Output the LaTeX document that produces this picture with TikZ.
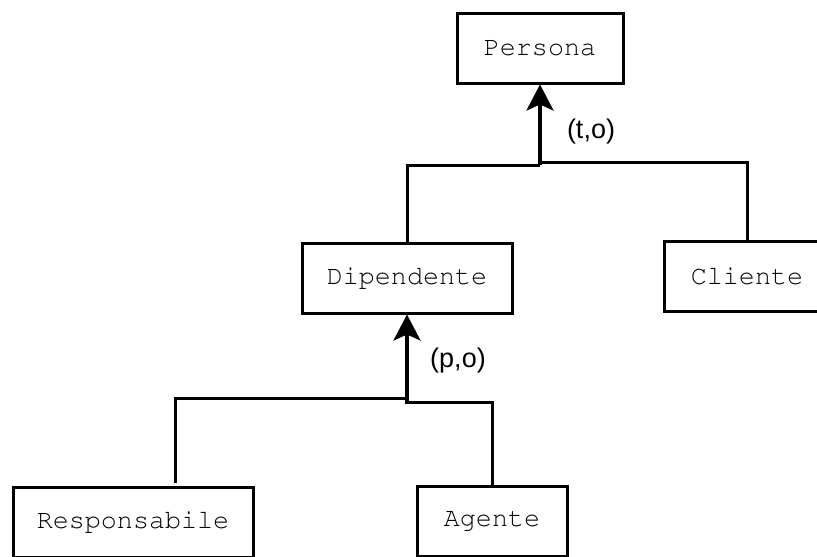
\documentclass[tikz,border=0pt]{standalone}
\usepackage[T1,TU]{fontenc}
\usepackage{fontspec}
\setmainfont{Liberation Sans}
\usetikzlibrary{arrows.meta}
% Courier (URW) for the entity names
\newcommand{\entfont}{\fontencoding{T1}\fontfamily{pcr}\fontseries{m}\fontshape{n}\fontsize{26.7}{30}\selectfont}
\begin{document}
\begin{tikzpicture}[x=1pt,y=-1pt,
  entity/.style={draw, line width=3pt, minimum height=70pt, inner sep=0pt,
    font=\entfont},
  link/.style={line width=3pt},
  isa/.style={line width=3.5pt, -{Stealth[length=26pt,width=27pt,inset=6pt]}},
  card/.style={font=\fontsize{27}{30}\selectfont, inner sep=0pt}]
\useasboundingbox (0,0) rectangle (817,557);

% entities
\node[entity, minimum width=166pt] (per) at (540,48)  {Persona};
\node[entity, minimum width=210pt] (dip) at (407,278) {Dipendente};
\node[entity, minimum width=166pt] (cli) at (747,276) {Cliente};
\node[entity, minimum width=240pt] (res) at (133,522) {Responsabile};
\node[entity, minimum width=150pt] (agt) at (492,521) {Agente};

% generalisation of Persona
\coordinate (pl) at (540,165);
\coordinate (pr) at (540,162);
\draw[link] (dip.north) |- (pl);
\draw[link] (cli.north) |- (pr);
\draw[isa] (540,164.5) -- (per.south);
\node[card] (to) at (591,132) {(t,o)};

% generalisation of Dipendente
\coordinate (rl) at (175,483);
\coordinate (dl) at (407,398);
\coordinate (dr) at (407,402);
\draw[link] (rl) |- (dl);
\draw[link] (agt.north) |- (dr);
\draw[isa] (407,403.5) -- (dip.south);
\node[card] (po) at (458,361) {(p,o)};
\end{tikzpicture}
\end{document}
